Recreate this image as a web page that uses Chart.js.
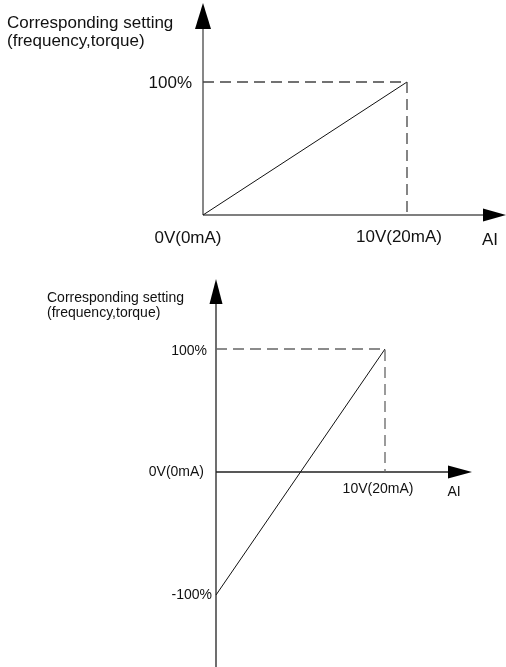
<!DOCTYPE html>
<html>
<head>
<meta charset="utf-8">
<script src="https://cdn.jsdelivr.net/npm/chart.js@4"></script>
<style>
  html, body { margin: 0; padding: 0; background: #fff; }
  body { width: 506px; height: 667px; position: relative; overflow: hidden; }
  canvas { position: absolute; left: 0; }
  #top { top: 0; }
  #bottom { top: 250px; }
</style>
</head>
<body>
<canvas id="top" width="506" height="250"></canvas>
<canvas id="bottom" width="506" height="417"></canvas>
<script>
// ---- data ----
const inputValues = [0, 10];              // AI input, volts (0V..10V)
const topSetting = [0, 100];              // corresponding setting, % (chart 1)
const bottomSetting = [-100, 100];        // corresponding setting, % (chart 2)
const xTickLabels = ["0V(0mA)", "10V(20mA)"];
const topYTickLabels = ["100%"];
const bottomYTickLabels = ["100%", "-100%"];
const yTitleLines = ["Corresponding setting", "(frequency,torque)"];
const xTitle = "AI";

function pts(xs, ys) { return xs.map((x, i) => ({ x: x, y: ys[i] })); }
function guide(xs, ys) {
  const xm = xs[xs.length - 1], ym = ys[ys.length - 1];
  return [{ x: xs[0], y: ym }, { x: xm, y: ym }, { x: xm, y: 0 }];
}

function makePlugin(cfg) {
  return {
    id: 'schematic',
    beforeDatasetsDraw(chart) {
      const c = chart.ctx, xs = chart.scales.x, ys = chart.scales.y;
      const x0 = xs.getPixelForValue(0), y0 = ys.getPixelForValue(0);
      c.save();
      c.strokeStyle = cfg.axisColor; c.lineWidth = cfg.axisWidth;
      c.beginPath();
      c.moveTo(x0, cfg.yArrowBase); c.lineTo(x0, cfg.yAxisEnd === null ? y0 : cfg.yAxisEnd);
      c.moveTo(x0, y0); c.lineTo(cfg.xArrowBase, y0);
      c.stroke();
      c.fillStyle = '#000';
      // up arrow
      c.beginPath();
      c.moveTo(x0, cfg.yArrowTip);
      c.lineTo(x0 + cfg.upW / 2, cfg.yArrowBase);
      c.lineTo(x0 - cfg.upW / 2, cfg.yArrowBase);
      c.closePath(); c.fill();
      // right arrow
      c.beginPath();
      c.moveTo(cfg.xArrowTip, y0);
      c.lineTo(cfg.xArrowBase, y0 - cfg.rightH / 2);
      c.lineTo(cfg.xArrowBase, y0 + cfg.rightH / 2);
      c.closePath(); c.fill();
      c.restore();
    },
    afterDraw(chart) {
      const c = chart.ctx, xs = chart.scales.x, ys = chart.scales.y;
      const y0 = ys.getPixelForValue(0);
      c.save();
      c.fillStyle = '#111';
      c.font = cfg.font;
      c.textBaseline = 'alphabetic'; c.textAlign = 'left';
      yTitleLines.forEach((t, i) => c.fillText(t, cfg.titleX, cfg.titleY + i * cfg.titleLH));
      c.textBaseline = 'middle';
      // y tick labels
      cfg.yTicks.forEach(t => {
        c.textAlign = 'right';
        c.fillText(t.label, t.right, ys.getPixelForValue(t.value) + t.dy);
      });
      // x tick labels
      cfg.xTicks.forEach(t => {
        c.textAlign = 'center';
        c.fillText(t.label, xs.getPixelForValue(t.value) + t.dx, y0 + t.dy);
      });
      if (cfg.zeroLabel) {
        c.textAlign = 'right';
        c.fillText(cfg.zeroLabel.label, cfg.zeroLabel.right, y0);
      }
      c.textAlign = 'center';
      c.fillText(xTitle, cfg.aiX, y0 + cfg.aiDy);
      c.restore();
    }
  };
}

function makeChart(id, ys, yMin, yMax, pad, cfg, lineColors) {
  return new Chart(document.getElementById(id), {
    type: 'scatter',
    data: {
      datasets: [
        { data: guide(inputValues, ys), showLine: true, borderColor: lineColors.dash,
          borderWidth: 1.3, borderDash: [11, 6], pointRadius: 0, clip: false, tension: 0 },
        { data: pts(inputValues, ys), showLine: true, borderColor: '#111',
          borderWidth: 1, pointRadius: 0, clip: false, tension: 0 }
      ]
    },
    options: {
      responsive: false, animation: false, devicePixelRatio: 1,
      layout: { padding: pad },
      plugins: { legend: { display: false }, tooltip: { enabled: false } },
      scales: {
        x: { type: 'linear', display: false, min: inputValues[0], max: inputValues[inputValues.length - 1] },
        y: { type: 'linear', display: false, min: yMin, max: yMax }
      }
    },
    plugins: [makePlugin(cfg)]
  });
}

makeChart('top', topSetting, 0, 100,
  { left: 203, right: 99, top: 82, bottom: 35 },
  {
    axisColor: '#555', axisWidth: 1.4,
    yArrowTip: 3, yArrowBase: 29, yAxisEnd: null, upW: 16,
    xArrowBase: 483, xArrowTip: 506, rightH: 13,
    font: '17px "Liberation Sans", Arial, sans-serif',
    titleX: 7, titleY: 28, titleLH: 18,
    yTicks: [{ label: topYTickLabels[0], value: 100, right: 192, dy: 1 }],
    xTicks: [{ label: xTickLabels[0], value: 0, dx: -15, dy: 23 },
             { label: xTickLabels[1], value: 10, dx: -8, dy: 22 }],
    zeroLabel: null,
    aiX: 490, aiDy: 25
  },
  { dash: '#444' });

makeChart('bottom', bottomSetting, -100, 100,
  { left: 216, right: 121, top: 99, bottom: 72 },
  {
    axisColor: '#222', axisWidth: 1.3,
    yArrowTip: 29, yArrowBase: 54, yAxisEnd: 417, upW: 13,
    xArrowBase: 448, xArrowTip: 472, rightH: 13,
    font: '14px "Liberation Sans", Arial, sans-serif',
    titleX: 47, titleY: 52, titleLH: 14.5,
    yTicks: [{ label: bottomYTickLabels[0], value: 100, right: 207, dy: 2 },
             { label: bottomYTickLabels[1], value: -100, right: 212, dy: 0 }],
    xTicks: [{ label: xTickLabels[1], value: 10, dx: -7, dy: 17 }],
    zeroLabel: { label: xTickLabels[0], right: 204 },
    aiX: 454, aiDy: 20
  },
  { dash: '#666' });
</script>
</body>
</html>
